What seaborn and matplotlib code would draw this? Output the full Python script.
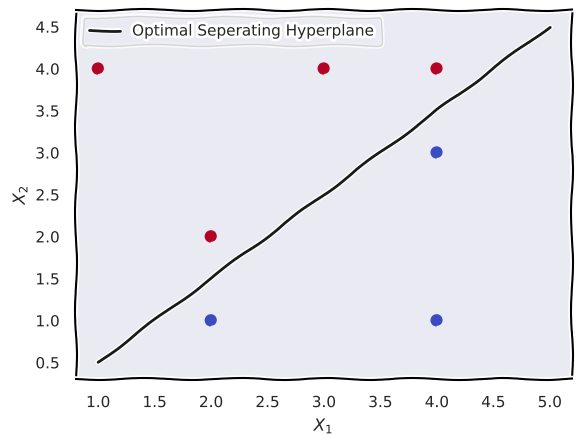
import matplotlib
matplotlib.use("Agg")
import matplotlib.pyplot as plt
import seaborn as sns
import pandas as pd

# data points and the separating line
x1 = [1, 3, 4, 2, 2, 4, 4]
x2 = [4, 4, 4, 2, 1, 1, 3]
label = ["red", "red", "red", "red", "blue", "blue", "blue"]
line_x = [1, 5]
line_y = [0.5, 4.5]

sns.set()
plt.xkcd()
plt.rcParams['font.family'] = ['DejaVu Sans']

df = pd.DataFrame({'x1': x1, 'x2': x2, 'cls': label})
cmap = plt.get_cmap('coolwarm')

fig, ax = plt.subplots(figsize=(5.81, 4.46), dpi=100)
fig.subplots_adjust(left=0.13, right=0.985, top=0.978, bottom=0.15)
sns.scatterplot(data=df, x='x1', y='x2', hue='cls',
                palette={'red': cmap(1.0), 'blue': cmap(0.0)},
                s=60, linewidth=0, legend=False, ax=ax)
sns.lineplot(x=line_x, y=line_y, color='k', label='Optimal Seperating Hyperplane', ax=ax)
ax.set_xlabel('$X_1$')
ax.set_ylabel('$X_2$')
ax.legend(loc='upper left')
fig.savefig('out.png')
